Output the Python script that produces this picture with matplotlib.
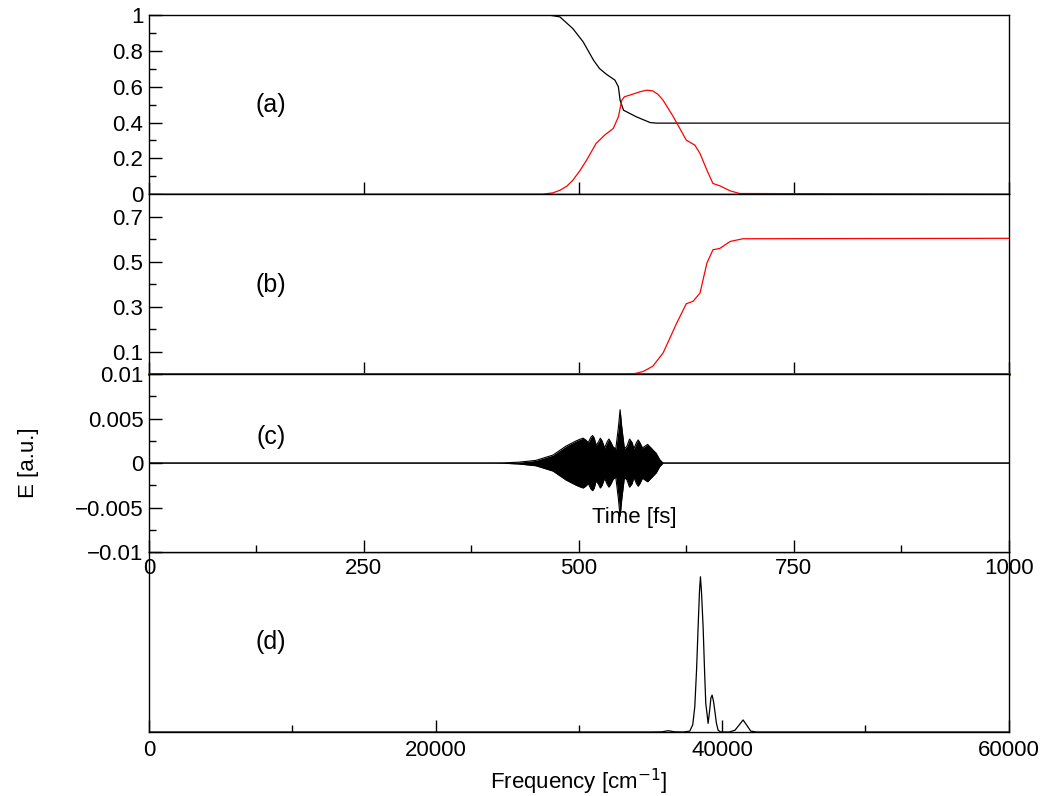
import matplotlib.pyplot as plt
from matplotlib.ticker import MultipleLocator, FixedLocator, NullLocator

plt.rcParams['font.family'] = ['Liberation Sans', 'DejaVu Sans']
plt.rcParams['font.size'] = 16

# (a) populations
t_a_black = [0, 466, 478, 493, 505, 517, 524, 532, 542, 546, 548, 552, 567, 583, 590, 1000]
p_a_black = [1.0, 1.0, 0.99, 0.925, 0.851, 0.749, 0.702, 0.670, 0.637, 0.60, 0.525, 0.469, 0.432, 0.40, 0.397, 0.397]
t_a_red = [0, 458, 470, 478, 486, 493, 501, 509, 520, 530, 540, 546, 550, 553, 563, 571, 579, 586, 592, 598, 610,
           625, 635, 641, 649, 656, 664, 676, 687, 1000]
p_a_red = [0, 0.0, 0.008, 0.022, 0.045, 0.078, 0.13, 0.19, 0.283, 0.33, 0.367, 0.432, 0.525, 0.544, 0.559, 0.572,
           0.581, 0.577, 0.558, 0.525, 0.432, 0.302, 0.274, 0.227, 0.134, 0.060, 0.047, 0.019, 0.004, 0.0]
t_green = [0, 1000]
p_green = [0, 0]

# (b)
t_b_red = [0, 555, 566, 575, 586, 598, 614, 625, 633, 641, 649, 656, 664, 676, 691, 1000]
p_b_red = [0, 0, 0.003, 0.012, 0.035, 0.094, 0.228, 0.313, 0.324, 0.361, 0.494, 0.553, 0.559, 0.590, 0.602, 0.604]

# (c) field envelope
t_env = [0, 400, 412, 430, 450, 470, 485, 497, 502, 505, 508, 511, 514, 516, 518, 520, 523, 525, 527,
         530, 533, 535, 537, 540, 543, 546, 548, 550, 553, 556, 559, 562, 564, 567, 569, 571, 574,
         577, 580, 583, 586, 590, 594, 598, 1000]
env = [0, 0, 0.00002, 0.0001, 0.0003, 0.0009, 0.0019, 0.0025, 0.0027, 0.0028, 0.0026, 0.0023, 0.0029,
       0.0031, 0.0028, 0.0020, 0.0024, 0.0028, 0.0025, 0.0017, 0.0024, 0.0027, 0.0024, 0.0018,
       0.0016, 0.0040, 0.0060, 0.0040, 0.0016, 0.0019, 0.0027, 0.0023, 0.0016, 0.0023, 0.0026,
       0.0023, 0.0017, 0.0019, 0.0021, 0.0018, 0.0015, 0.0011, 0.0004, 0.0, 0.0]

# (d) spectrum
freq = [0, 35000, 35800, 36230, 36700, 37300, 37744, 37950, 38093, 38220, 38326, 38420, 38488,
        38560, 38674, 38780, 38860, 38950, 39023, 39130, 39220, 39302, 39400, 39488, 39600, 39721,
        39900, 40500, 40900, 41200, 41465, 41700, 42000, 42400, 60000]
spec = [0, 0, 0.001, 0.007, 0.001, 0, 0.005, 0.04, 0.14, 0.35, 0.585, 0.78, 0.863,
        0.78, 0.585, 0.33, 0.159, 0.10, 0.048, 0.12, 0.19, 0.205, 0.17, 0.12, 0.05, 0.01,
        0, 0, 0.01, 0.04, 0.067, 0.04, 0.005, 0, 0]

fig = plt.figure(figsize=(10.42, 7.96), dpi=100)
L, W = 0.143, 0.825
ax_a = fig.add_axes([L, 0.756, W, 0.225])
ax_b = fig.add_axes([L, 0.530, W, 0.226])
ax_c = fig.add_axes([L, 0.3065, W, 0.2235])
ax_d = fig.add_axes([L, 0.0804, W, 0.226])
ax_d.patch.set_visible(False)
ax_c.set_zorder(3)
ax_d.set_zorder(2)

for ax in [ax_a, ax_b, ax_c, ax_d]:
    for s in ax.spines.values():
        s.set_linewidth(1.0)
    ax.tick_params(which='both', direction='in', top=False, right=False, labelsize=16, pad=4)
    ax.tick_params(which='major', length=9, width=1)
    ax.tick_params(which='minor', length=5, width=1)

for ax in [ax_a, ax_b, ax_c]:
    ax.set_xlim(0, 1000)
    ax.xaxis.set_major_locator(MultipleLocator(250))

ax_a.plot(t_green, p_green, color='#33cc33', lw=1.0, zorder=1)
ax_a.plot(t_a_black, p_a_black, color='black', lw=0.9)
ax_a.plot(t_a_red, p_a_red, color='red', lw=0.9)
ax_a.set_ylim(0, 1)
ax_a.set_yticks([0, 0.2, 0.4, 0.6, 0.8, 1.0], ['0', '0.2', '0.4', '0.6', '0.8', '1'])
ax_a.yaxis.set_minor_locator(MultipleLocator(0.1))
ax_a.tick_params(axis='x', labelbottom=False)
ax_a.text(0.142, 0.497, '(a)', transform=ax_a.transAxes, ha='center', va='center', fontsize=18)

ax_b.plot(t_b_red, p_b_red, color='red', lw=0.9)
ax_b.plot(t_green, p_green, color='#1a6b00', lw=2.0, zorder=3, clip_on=False)
ax_b.set_ylim(0, 0.8)
ax_b.set_yticks([0.1, 0.3, 0.5, 0.7], ['0.1', '0.3', '0.5', '0.7'])
ax_b.yaxis.set_minor_locator(FixedLocator([0.2, 0.4, 0.6]))
ax_b.tick_params(axis='x', labelbottom=False)
ax_b.text(0.142, 0.494, '(b)', transform=ax_b.transAxes, ha='center', va='center', fontsize=18)

neg_env = [-v for v in env]
ax_c.fill_between(t_env, neg_env, env, color='black', lw=0)
ax_c.plot(t_env, env, color='black', lw=0.8)
ax_c.plot(t_env, neg_env, color='black', lw=0.8)
ax_c.set_ylim(-0.01, 0.01)
ax_c.set_yticks([-0.01, -0.005, 0, 0.005, 0.01],
                ['\u22120.01', '\u22120.005', '0', '0.005', '0.01'])
ax_c.yaxis.set_minor_locator(MultipleLocator(0.0025))
ax_c.xaxis.set_minor_locator(MultipleLocator(125))
ax_c.set_xticks([0, 250, 500, 750, 1000], ['0', '250', '500', '750', '1000'])
ax_c.tick_params(axis='x', pad=4)
ax_c.set_ylabel('E [a.u.]', fontsize=16)
ax_c.yaxis.set_label_coords(-0.128, 0.5)
ax_c.text(564, -0.0061, 'Time [fs]', ha='center', va='center', fontsize=16)
ax_c.text(0.142, 0.646, '(c)', transform=ax_c.transAxes, ha='center', va='center', fontsize=18)

ax_d.plot(freq, spec, color='black', lw=0.9)
ax_d.set_xlim(0, 60000)
ax_d.set_ylim(0, 1)
ax_d.set_xticks([0, 20000, 40000, 60000], ['0', '20000', '40000', '60000'])
ax_d.xaxis.set_minor_locator(MultipleLocator(10000))
ax_d.yaxis.set_major_locator(NullLocator())
ax_d.tick_params(axis='x', pad=6)
ax_d.set_xlabel('Frequency [cm$^{-1}$]', fontsize=16, labelpad=4)
ax_d.text(0.142, 0.5, '(d)', transform=ax_d.transAxes, ha='center', va='center', fontsize=18)

fig.savefig('out.png', dpi=100)
